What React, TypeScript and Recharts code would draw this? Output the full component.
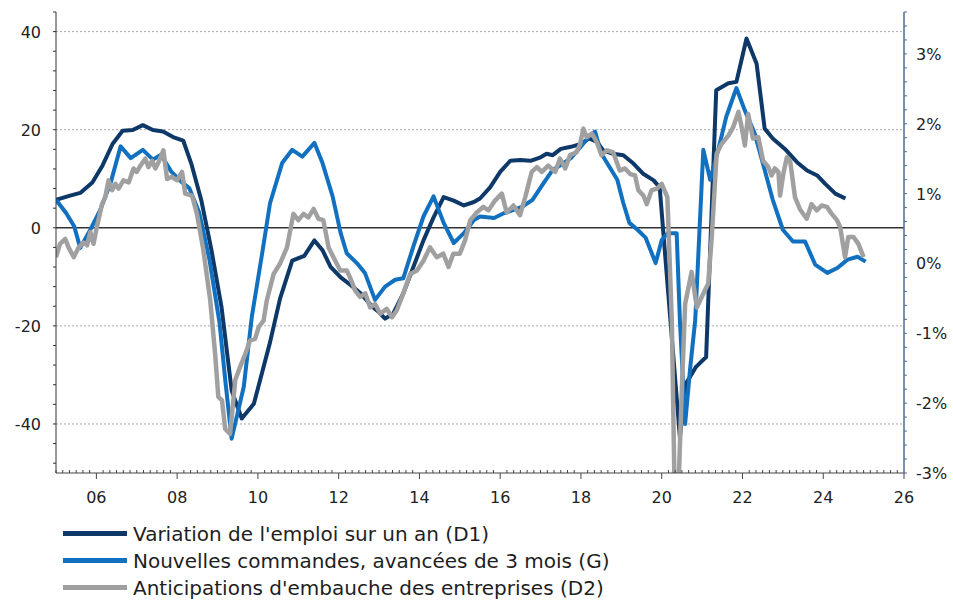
import { LineChart, Line, XAxis, YAxis, ReferenceLine } from 'recharts'

// Variation de l'emploi sur un an (D1, axe droit, %)
const navyDates = [
  2005.0, 2005.35, 2005.6, 2005.9, 2006.15, 2006.4, 2006.65, 2006.9, 2007.15, 2007.4, 2007.65, 2007.9,
  2008.15, 2008.35, 2008.6, 2008.85, 2009.1, 2009.35, 2009.6, 2009.9, 2010.3, 2010.55, 2010.85,
  2011.15, 2011.4, 2011.6, 2011.8, 2012.05, 2012.3, 2012.55, 2012.8, 2013.0, 2013.15, 2013.35, 2013.6,
  2013.85, 2014.1, 2014.35, 2014.6, 2014.85, 2015.1, 2015.35, 2015.5, 2015.75, 2016.0, 2016.25, 2016.5,
  2016.75, 2017.0, 2017.15, 2017.3, 2017.5, 2017.75, 2018.0, 2018.2, 2018.4, 2018.55, 2018.8, 2019.05,
  2019.3, 2019.55, 2019.8, 2019.95, 2020.45, 2020.6, 2020.85, 2021.1, 2021.35, 2021.65, 2021.85, 2022.1,
  2022.35, 2022.55, 2022.75, 2023.05, 2023.35, 2023.6, 2023.85, 2024.05, 2024.3, 2024.55,
]
const navyValues = [
  0.91, 0.97, 1.01, 1.16, 1.4, 1.71, 1.9, 1.91, 1.98, 1.91, 1.89, 1.81,
  1.76, 1.43, 0.9, 0.19, -0.63, -1.82, -2.22, -2.01, -1.13, -0.5, 0.04,
  0.11, 0.33, 0.19, -0.05, -0.2, -0.31, -0.43, -0.6, -0.7, -0.79, -0.72, -0.43,
  -0.05, 0.33, 0.66, 0.95, 0.9, 0.83, 0.88, 0.93, 1.09, 1.31, 1.47, 1.48,
  1.47, 1.52, 1.57, 1.55, 1.64, 1.67, 1.71, 1.79, 1.74, 1.62, 1.57, 1.55,
  1.43, 1.28, 1.19, 1.09, -2.49, -1.72, -1.48, -1.34, 2.48, 2.58, 2.6, 3.22,
  2.86, 1.93, 1.79, 1.64, 1.45, 1.33, 1.26, 1.14, 1.0, 0.93,
]

// Nouvelles commandes, avancées de 3 mois (G, axe gauche)
const blueDates = [
  2005.0, 2005.25, 2005.45, 2005.6, 2005.85, 2006.1, 2006.35, 2006.6, 2006.85, 2007.15, 2007.4, 2007.6,
  2007.85, 2008.1, 2008.3, 2008.55, 2008.8, 2009.05, 2009.2, 2009.35, 2009.65, 2009.85, 2010.1, 2010.3,
  2010.6, 2010.85, 2011.1, 2011.4, 2011.6, 2011.85, 2012.05, 2012.2, 2012.45, 2012.65, 2012.9, 2013.15,
  2013.4, 2013.6, 2013.85, 2014.1, 2014.35, 2014.6, 2014.85, 2015.1, 2015.35, 2015.5, 2015.85, 2016.1,
  2016.35, 2016.55, 2016.8, 2017.05, 2017.3, 2017.5, 2017.75, 2018.0, 2018.2, 2018.35, 2018.5, 2018.7,
  2018.9, 2019.05, 2019.2, 2019.4, 2019.6, 2019.85, 2020.0, 2020.15, 2020.37, 2020.45, 2020.58, 2020.7,
  2020.83, 2021.03, 2021.2, 2021.4, 2021.6, 2021.85, 2022.05, 2022.3, 2022.55, 2022.75, 2023.0, 2023.25,
  2023.55, 2023.8, 2024.1, 2024.35, 2024.6, 2024.85, 2025.05,
]
const blueValues = [
  5.7, 3.0, 0.3, -4.1, -0.4, 3.7, 9.1, 16.6, 14.2, 15.9, 13.9, 14.9,
  11.5, 9.4, 8.1, 3.0, -6.5, -19.4, -31.7, -43.0, -32.4, -18.1, -5.5, 5.0,
  13.2, 15.9, 14.5, 17.3, 13.2, 6.4, -1.1, -5.2, -7.2, -9.2, -14.7, -12.0,
  -10.6, -10.3, -3.8, 2.3, 6.4, 1.0, -3.1, -1.1, 1.6, 2.3, 2.0, 3.0,
  3.7, 4.3, 5.7, 8.8, 11.8, 12.8, 14.2, 16.6, 18.6, 19.6, 15.2, 12.5,
  9.8, 5.0, 1.0, -0.4, -2.0, -7.2, -2.5, -1.1, -1.1, -18.8, -40.0, -29.0,
  -18.8, 15.9, 9.8, 15.9, 22.7, 28.5, 24.1, 19.3, 11.8, 5.7, -0.4, -2.8,
  -2.8, -7.5, -9.2, -8.2, -6.5, -5.9, -6.9,
]

// Anticipations d'embauche des entreprises (D2, axe droit, %)
const grayDates = [
  2005.0, 2005.1, 2005.23, 2005.31, 2005.44, 2005.56, 2005.68, 2005.77, 2005.85, 2005.93, 2006.01, 2006.14,
  2006.22, 2006.3, 2006.39, 2006.47, 2006.55, 2006.67, 2006.8, 2006.92, 2007.0, 2007.09, 2007.21, 2007.29,
  2007.38, 2007.46, 2007.54, 2007.66, 2007.75, 2007.87, 2008.0, 2008.12, 2008.2, 2008.37, 2008.49, 2008.65,
  2008.82, 2008.94, 2009.02, 2009.11, 2009.19, 2009.31, 2009.44, 2009.56, 2009.69, 2009.81, 2009.93, 2010.02,
  2010.14, 2010.22, 2010.39, 2010.55, 2010.72, 2010.88, 2011.0, 2011.13, 2011.25, 2011.38, 2011.5, 2011.62,
  2011.75, 2011.87, 2012.04, 2012.2, 2012.28, 2012.41, 2012.53, 2012.66, 2012.78, 2012.9, 2013.03, 2013.19,
  2013.32, 2013.44, 2013.6, 2013.77, 2013.94, 2014.1, 2014.26, 2014.43, 2014.59, 2014.72, 2014.84, 2015.0,
  2015.13, 2015.26, 2015.42, 2015.58, 2015.71, 2015.87, 2016.04, 2016.16, 2016.33, 2016.49, 2016.62, 2016.78,
  2016.91, 2017.03, 2017.19, 2017.36, 2017.48, 2017.61, 2017.73, 2017.89, 2017.98, 2018.06, 2018.14, 2018.27,
  2018.39, 2018.51, 2018.64, 2018.8, 2018.96, 2019.09, 2019.22, 2019.34, 2019.42, 2019.55, 2019.63, 2019.75,
  2019.88, 2020.0, 2020.14, 2020.25, 2020.32, 2020.41, 2020.5, 2020.58, 2020.74, 2020.87, 2020.99, 2021.15,
  2021.24, 2021.36, 2021.48, 2021.65, 2021.77, 2021.9, 2021.98, 2022.06, 2022.14, 2022.26, 2022.39, 2022.51,
  2022.64, 2022.72, 2022.8, 2022.89, 2022.93, 2023.01, 2023.1, 2023.18, 2023.3, 2023.42, 2023.59, 2023.71,
  2023.84, 2023.96, 2024.09, 2024.21, 2024.34, 2024.42, 2024.5, 2024.54, 2024.62, 2024.75, 2024.87, 2025.0,
]
const grayValues = [
  0.09, 0.28, 0.35, 0.23, 0.09, 0.23, 0.3, 0.26, 0.45, 0.28, 0.52, 0.85,
  0.95, 1.19, 1.05, 1.14, 1.07, 1.19, 1.16, 1.36, 1.31, 1.4, 1.5, 1.38,
  1.47, 1.36, 1.45, 1.62, 1.21, 1.24, 1.19, 1.31, 1.0, 0.97, 0.71, 0.19,
  -0.53, -1.29, -1.91, -1.96, -2.37, -2.44, -1.67, -1.48, -1.29, -1.1, -1.08, -0.91,
  -0.82, -0.53, -0.15, 0.0, 0.23, 0.71, 0.62, 0.71, 0.66, 0.78, 0.64, 0.62,
  0.23, 0.09, -0.1, -0.1, -0.2, -0.39, -0.48, -0.43, -0.63, -0.58, -0.72, -0.65,
  -0.77, -0.67, -0.43, -0.15, -0.1, 0.04, 0.23, 0.09, 0.14, -0.05, 0.14, 0.14,
  0.33, 0.62, 0.73, 0.81, 0.76, 0.9, 1.0, 0.73, 0.83, 0.69, 0.95, 1.31,
  1.38, 1.31, 1.4, 1.31, 1.5, 1.36, 1.55, 1.59, 1.71, 1.93, 1.81, 1.86,
  1.74, 1.55, 1.62, 1.59, 1.33, 1.36, 1.28, 1.26, 1.05, 0.97, 0.85, 1.05,
  1.07, 1.14, 0.95, -0.82, -3.3, -3.3, -1.77, -0.58, -0.12, -0.63, -0.48, -0.29,
  0.38, 1.57, 1.71, 1.83, 1.95, 2.17, 1.95, 1.69, 2.14, 1.79, 1.81, 1.47,
  1.38, 1.26, 1.36, 1.31, 0.97, 1.28, 1.52, 1.47, 0.95, 0.78, 0.64, 0.85,
  0.76, 0.83, 0.81, 0.71, 0.62, 0.52, 0.23, 0.09, 0.38, 0.38, 0.28, 0.09,
]

const leftLabels = [-40, -20, 0, 20, 40]
const rightLabels = [-3, -2, -1, 0, 1, 2, 3]
const gridValues = [-40, -20, 20, 40]

const seriesNames = [
  "Variation de l'emploi sur un an (D1)",
  'Nouvelles commandes, avancées de 3 mois (G)',
  "Anticipations d'embauche des entreprises (D2)",
]
const colors = ['#0d3868', '#1170c0', '#a0a0a0']

const FONT = "'DejaVu Sans', Verdana, sans-serif"

const toPoints = (dates: number[], values: number[]) => dates.map((t, i) => ({ t, v: values[i] }))
const navyData = toPoints(navyDates, navyValues)
const blueData = toPoints(blueDates, blueValues)
const grayData = toPoints(grayDates, grayValues)

// ticks tous les 2 mois, grands traits les années paires
const xTicks = Array.from({ length: 127 }, (_, k) => 2005 + k / 6)
const leftTicks = Array.from({ length: 24 }, (_, k) => -48 + 4 * k)
const rightTicks = Array.from({ length: 34 }, (_, k) => Math.round((-3 + 0.2 * k) * 10) / 10)

function XTick(props: any) {
  const { x, y, payload } = props
  const v = payload.value
  const yr = Math.round(v)
  const major = Math.abs(v - yr) < 1e-6 && yr % 2 === 0
  if (major) {
    return (
      <g>
        <line x1={x} x2={x} y1={y} y2={y + 6} stroke="#444" strokeWidth={1} />
        <text x={x} y={y + 30} textAnchor="middle" fontSize={16} fontFamily={FONT} fill="#222">
          {String(yr % 100).padStart(2, '0')}
        </text>
      </g>
    )
  }
  return <line x1={x} x2={x} y1={y} y2={y - 3} stroke="#444" strokeWidth={1} />
}

function LeftTick(props: any) {
  const { x, y, payload } = props
  if (!leftLabels.includes(payload.value)) return <g />
  return (
    <text x={x - 12} y={y + 6} textAnchor="end" fontSize={16} fontFamily={FONT} fill="#222">
      {payload.value}
    </text>
  )
}

function RightTick(props: any) {
  const { x, y, payload } = props
  if (!rightLabels.includes(payload.value)) return <g />
  return (
    <text x={x + 9} y={y + 6} textAnchor="start" fontSize={16} fontFamily={FONT} fill="#222">
      {payload.value + '%'}
    </text>
  )
}

export default function App() {
  return (
    <div style={{ position: 'absolute', left: 0, top: 0, width: 953, height: 601, background: '#fff' }}>
      <LineChart width={953} height={601} margin={{ top: 12, right: 0, left: 0, bottom: 88 }}>
        <XAxis
          type="number"
          dataKey="t"
          domain={[2005, 2026]}
          allowDataOverflow
          ticks={xTicks}
          interval={0}
          height={40}
          tickSize={0}
          tickMargin={0}
          tickLine={false}
          tick={XTick}
          axisLine={{ stroke: '#444', strokeWidth: 1 }}
        />
        <YAxis
          yAxisId="left"
          width={56}
          domain={[-50, 44]}
          allowDataOverflow
          ticks={leftTicks}
          interval={0}
          tickSize={3}
          tickMargin={0}
          tickLine={{ stroke: '#333' }}
          tick={LeftTick}
          axisLine={{ stroke: '#333', strokeWidth: 1 }}
        />
        <YAxis
          yAxisId="right"
          orientation="right"
          width={49}
          domain={[-3, 3.6]}
          allowDataOverflow
          ticks={rightTicks}
          interval={0}
          tickSize={3}
          tickMargin={0}
          tickLine={{ stroke: '#4d6d94' }}
          tick={RightTick}
          axisLine={{ stroke: '#4d6d94', strokeWidth: 1.5 }}
        />
        {gridValues.map((g) => (
          <ReferenceLine key={g} yAxisId="left" y={g} stroke="#a8a8a8" strokeWidth={1} strokeDasharray="2 2" />
        ))}
        <ReferenceLine yAxisId="left" y={0} stroke="#333" strokeWidth={1.5} />
        <Line
          yAxisId="right"
          data={navyData}
          dataKey="v"
          type="linear"
          stroke={colors[0]}
          strokeWidth={4}
          dot={false}
          strokeLinejoin="round"
          isAnimationActive={false}
        />
        <Line
          yAxisId="left"
          data={blueData}
          dataKey="v"
          type="linear"
          stroke={colors[1]}
          strokeWidth={4}
          dot={false}
          strokeLinejoin="round"
          isAnimationActive={false}
        />
        <Line
          yAxisId="right"
          data={grayData}
          dataKey="v"
          type="linear"
          stroke={colors[2]}
          strokeWidth={4.5}
          dot={false}
          strokeLinejoin="round"
          isAnimationActive={false}
        />
      </LineChart>
      <div style={{ position: 'absolute', left: 63, top: 520, fontFamily: FONT, fontSize: 20, color: '#1e1e1e' }}>
        {seriesNames.map((name, i) => (
          <div key={name} style={{ display: 'flex', alignItems: 'center', height: 27, whiteSpace: 'nowrap' }}>
            <span style={{ display: 'inline-block', width: 64, height: 5, background: colors[i], marginRight: 6 }} />
            <span>{name}</span>
          </div>
        ))}
      </div>
    </div>
  )
}
